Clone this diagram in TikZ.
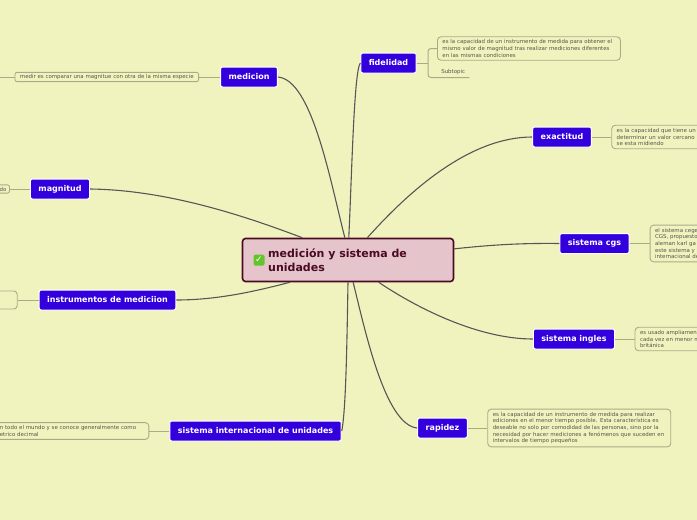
\documentclass[tikz,border=0pt]{standalone}
\usepackage{fontspec}
\setmainfont{DejaVu Sans}
\usetikzlibrary{positioning}

\definecolor{paper}{HTML}{F1F3BF}
\definecolor{topicblue}{HTML}{3300DD}
\definecolor{rootfill}{HTML}{E5C4CB}
\definecolor{rootink}{HTML}{4A0A24}
\definecolor{branchgray}{HTML}{565656}
\definecolor{noteedge}{HTML}{A9AB85}
\definecolor{noteink}{HTML}{55554A}
\definecolor{checkgreen}{HTML}{62C62A}

\tikzset{
  rootbox/.style={draw=rootink, fill=rootfill, line width=1.6pt, rounded corners=3pt,
    minimum width=211pt, minimum height=43pt},
  rootlabel/.style={text=rootink, font=\fontsize{11}{13.5}\selectfont\bfseries, align=left,
    inner sep=0pt, anchor=west},
  checkbox/.style={fill=checkgreen, text=white, rounded corners=1.5pt, inner sep=0pt,
    minimum size=11pt, font=\fontsize{9}{9}\selectfont\bfseries},
  topic/.style={draw=white, fill=topicblue, text=white, line width=1pt, rounded corners=2pt,
    font=\fontsize{8}{10}\selectfont\bfseries, minimum height=20pt, inner xsep=8pt, inner ysep=0pt},
  note/.style={draw=noteedge, line width=0.9pt, rounded corners=3.5pt, text=noteink,
    font=\fontsize{5.45}{6.6}\selectfont, align=left, inner xsep=5pt, inner ysep=3pt},
  branch/.style={draw=branchgray, line width=1.1pt},
  noteline/.style={draw=noteedge, line width=1pt}
}

\begin{document}
\begin{tikzpicture}[x=1pt, y=-1pt]
  \useasboundingbox[fill=paper] (0,0) rectangle (697,520);

  %Define nodes
  \node[rootbox] (root) at (348,260) {};
  \node[checkbox] (rootcheck) at (259,260) {✓};
  \node[rootlabel] (roottext) at (268,260) {medición y sistema de\\unidades};

  \node[topic] (medicion) at (249,77) {medicion};
  \node[topic] (fidelidad) at (388.5,63) {fidelidad};
  \node[topic] (exactitud) at (562,137) {exactitud};
  \node[topic] (magnitud) at (60,189) {magnitud};
  \node[topic] (cgs) at (594.5,243.5) {sistema cgs};
  \node[topic] (instrumentos) at (107.5,300) {instrumentos de mediciion};
  \node[topic] (ingles) at (574,339) {sistema ingles};
  \node[topic] (rapidez) at (442.5,428) {rapidez};
  \node[topic] (internacional) at (255.5,431) {sistema internacional de unidades};

  \node[note, left=21pt of medicion, inner ysep=2pt, rounded corners=2pt] (medicionnote) {medir es comparar una magnitue con otra de la misma especie};
  \coordinate (medicionend) at (-5,77);
  \node[note, anchor=west, text width=173pt] (fidelidadnote) at (437,48.5) {es la capacidad de un instrumento de medida para obtener el\\mismo valor de magnitud tras realizar mediciones diferentes\\en las mismas condiciones};
  \coordinate (fidelidadfork) at (428,63);
  \node[anchor=south west, inner xsep=4pt, inner ysep=2.5pt, minimum width=32pt, align=left,
    text=noteink, font=\fontsize{5.45}{6.6}\selectfont] (subtopic) at (437,77.5) {Subtopic};
  \node[note, right=19.5pt of exactitud, text width=118pt] (exactitudnote) {es la capacidad que tiene un\\determinar un valor cercano\\se esta midiendo};
  \node[note, left=20pt of magnitud, text width=9pt, align=right, inner xsep=3pt, inner ysep=2pt, rounded corners=2pt] (magnitudnote) {do};
  \node[note, right=20pt of cgs, text width=90pt] (cgsnote) {el sistema cege\\CGS, propuesto\\aleman karl ga\\este sistema y\\internacional de};
  \node[note, left=21pt of instrumentos, minimum width=40pt, minimum height=18pt] (instrumentosnote) {};
  \node[note, right=19.5pt of ingles, text width=100pt] (inglesnote) {es usado ampliamen\\cada vez en menor m\\británica};
  \node[note, right=19.5pt of rapidez, text width=173pt] (rapideznote) {es la capacidad de un instrumento de medida para realizar\\ediciones en el menor tiempo posible. Esta característica es\\deseable no solo por comodidad de las personas, sino por la\\necesidad por hacer mediciones a fenómenos que suceden en\\intervalos de tiempo pequeños};
  \node[note, left=20pt of internacional, text width=144pt] (internacionalnote) {n todo el mundo y se conoce generalmente como\\etrico decimal};

  % Connect the nodes
  \draw[branch] (medicion.east) .. controls (312,80) and (330,180) .. (root.98);
  \draw[branch] (fidelidad.west) .. controls (354,72) and (352,170) .. (root.88);
  \draw[branch] (exactitud.west) .. controls (470,137) and (410,190) .. (root.49);
  \draw[branch] (cgs.west) .. controls (520,243) and (490,245) .. (root.6.5);
  \draw[branch] (ingles.west) .. controls (480,339) and (420,310) .. (root.-36);
  \draw[branch] (rapidez.west) .. controls (385,425) and (365,330) .. (root.-77);
  \draw[branch] (internacional.east) .. controls (346,410) and (347,340) .. (root.south);
  \draw[branch] (instrumentos.east) .. controls (220,300) and (260,290) .. (root.201);
  \draw[branch] (magnitud.east) .. controls (170,190) and (250,218) .. (root.154.4);

  \draw[noteline] (medicion) -- (medicionnote);
  \draw[noteline] (medicionnote) -- (medicionend);
  \draw[noteline] (fidelidad) -- (fidelidadfork);
  \draw[noteline, rounded corners=3pt] (fidelidadnote.west) -| (fidelidadfork) |- (subtopic.south east);
  \draw[noteline] (exactitud) -- (exactitudnote);
  \draw[noteline] (magnitud) -- (magnitudnote);
  \draw[noteline] (cgs) -- (cgsnote);
  \draw[noteline] (instrumentos) -- (instrumentosnote);
  \draw[noteline] (ingles) -- (inglesnote);
  \draw[noteline] (rapidez) -- (rapideznote);
  \draw[noteline] (internacional) -- (internacionalnote);
\end{tikzpicture}
\end{document}
